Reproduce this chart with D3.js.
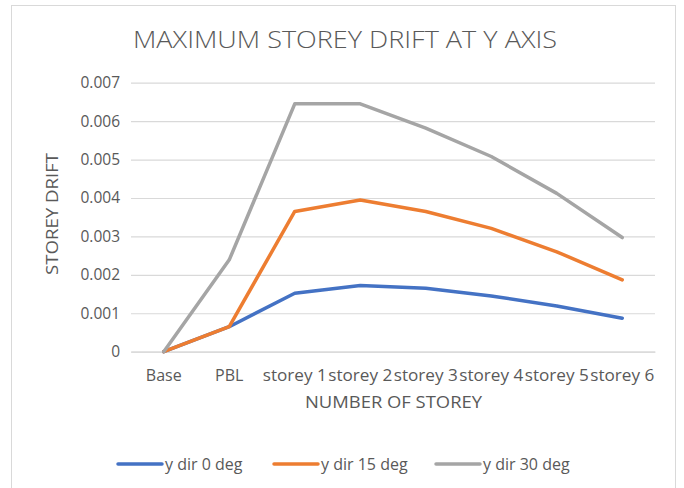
<!DOCTYPE html>
<html>
<head>
<meta charset="utf-8">
<script src="https://cdn.jsdelivr.net/npm/d3@7"></script>
<style>
  body { margin: 0; background: #fff; }
  text { font-family: "Open Sans", "Noto Sans", sans-serif; fill: #595959; }
</style>
</head>
<body>
<div id="chart"></div>
<script>
// categories along the x axis
const categories = ["Base", "PBL", "storey 1", "storey 2", "storey 3", "storey 4", "storey 5", "storey 6"];

// series values
const dir0 = [0, 0.00065, 0.00152, 0.00172, 0.00165, 0.00145, 0.00119, 0.00087];
const dir15 = [0, 0.00065, 0.00365, 0.00395, 0.00365, 0.00321, 0.0026, 0.00187];
const dir30 = [0, 0.00239, 0.00645, 0.00645, 0.00582, 0.00508, 0.00412, 0.00297];

const seriesNames = ["y dir 0 deg", "y dir 15 deg", "y dir 30 deg"];
const yTicks = [0, 0.001, 0.002, 0.003, 0.004, 0.005, 0.006, 0.007];

const colors = ["#4472C4", "#ED7D31", "#A5A5A5"];
const series = [dir0, dir15, dir30].map((v, i) => ({name: seriesNames[i], values: v, color: colors[i]}));

const W = 684, H = 488;
const plot = {left: 131, right: 655, top: 82.7, bottom: 351.7};

const svg = d3.select("#chart").append("svg")
  .attr("width", W)
  .attr("height", H);

// chart frame
svg.append("rect")
  .attr("x", 11.5).attr("y", 5.5)
  .attr("width", 664).attr("height", 500)
  .attr("fill", "#fff")
  .attr("stroke", "#d9d9d9")
  .attr("stroke-width", 1);

const x = d3.scaleBand().domain(categories).range([plot.left, plot.right]);
const y = d3.scaleLinear().domain([0, 0.007]).range([plot.bottom, plot.top]);

// gridlines + y labels
const yAxis = svg.append("g")
  .attr("transform", `translate(${plot.left},0)`)
  .call(d3.axisLeft(y).tickValues(yTicks).tickSize(-(plot.right - plot.left)).tickPadding(11)
    .tickFormat(d => d === 0 ? "0" : d3.format(".3f")(d)));
yAxis.select(".domain").remove();
yAxis.selectAll("line").attr("stroke", "#d9d9d9").attr("stroke-width", 1.2);
yAxis.selectAll("text").style("font-size", "15.5px").attr("fill", "#595959");

// x labels
const xAxis = svg.append("g")
  .attr("transform", `translate(0,${plot.bottom})`)
  .call(d3.axisBottom(x).tickSize(0).tickPadding(18));
xAxis.select(".domain").attr("stroke", "#d9d9d9").attr("stroke-width", 1.2);
xAxis.selectAll("text").style("font-size", "16px").attr("fill", "#595959")
  .attr("textLength", d => d.length > 4 ? 64 : null)
  .attr("lengthAdjust", "spacingAndGlyphs");

// lines
const line = d3.line()
  .x((d, i) => x(categories[i]) + x.bandwidth() / 2)
  .y(d => y(d));

svg.append("g").selectAll("path")
  .data(series)
  .join("path")
  .attr("d", d => line(d.values))
  .attr("fill", "none")
  .attr("stroke", d => d.color)
  .attr("stroke-width", 3.5)
  .attr("stroke-linejoin", "round")
  .attr("stroke-linecap", "round");

// title
svg.append("text")
  .attr("x", 133).attr("y", 48)
  .attr("textLength", 424)
  .attr("lengthAdjust", "spacingAndGlyphs")
  .style("font-size", "24px")
  .style("font-weight", 300)
  .text("MAXIMUM STOREY DRIFT AT Y AXIS");

// axis titles
svg.append("text")
  .attr("x", 305).attr("y", 408)
  .attr("textLength", 177)
  .attr("lengthAdjust", "spacingAndGlyphs")
  .style("font-size", "16px")
  .text("NUMBER OF STOREY");

svg.append("text")
  .attr("transform", `translate(58,214) rotate(-90)`)
  .attr("text-anchor", "middle")
  .attr("textLength", 122)
  .attr("lengthAdjust", "spacingAndGlyphs")
  .style("font-size", "16px")
  .text("STOREY DRIFT");

// legend
const legendX = [118, 274, 436];
const legend = svg.append("g").selectAll("g")
  .data(series)
  .join("g")
  .attr("transform", (d, i) => `translate(${legendX[i]},464)`);
legend.append("line")
  .attr("x1", 0).attr("x2", 44)
  .attr("stroke", d => d.color)
  .attr("stroke-width", 3.5)
  .attr("stroke-linecap", "round");
legend.append("text")
  .attr("x", 47).attr("y", 6)
  .style("font-size", "16px")
  .text(d => d.name);
</script>
</body>
</html>
